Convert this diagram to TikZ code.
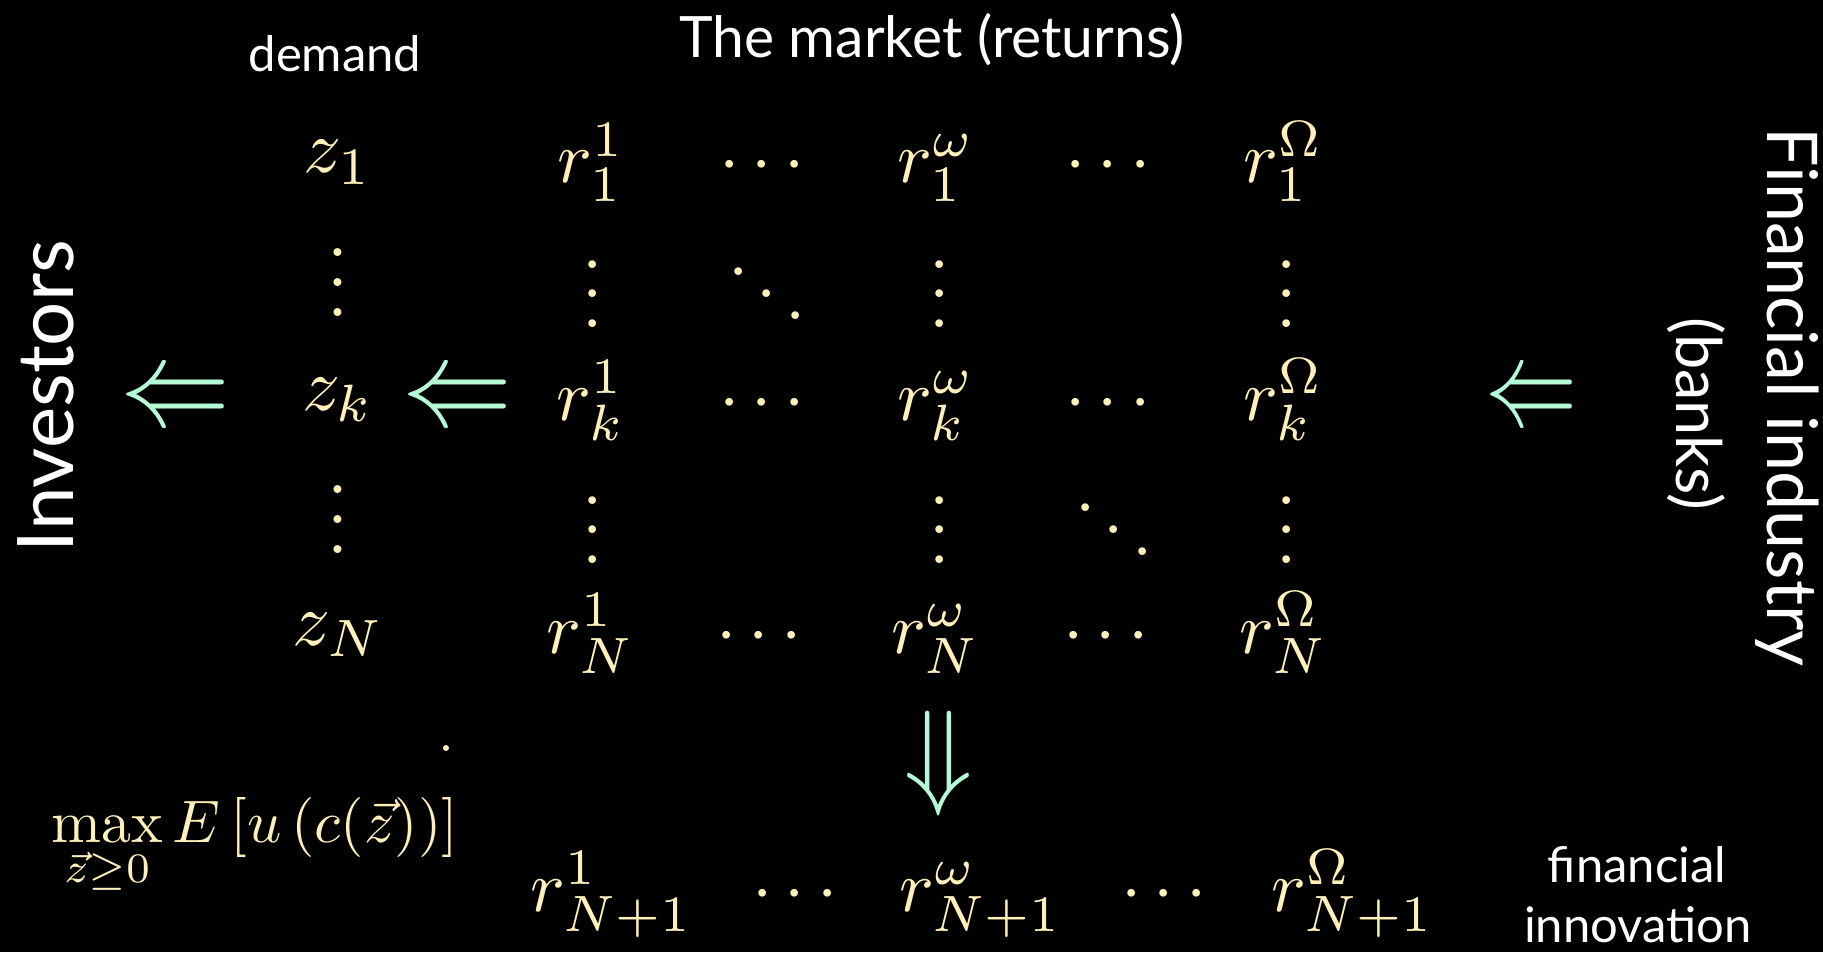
\documentclass[tikz,border=0pt]{standalone}
\usepackage{fontspec}
\newfontfamily\lato{Lato}
\definecolor{cream}{RGB}{255,240,185}
\definecolor{mint}{RGB}{180,250,215}
\tikzset{
  mth/.style={text=cream, inner sep=0pt, outer sep=0pt, scale=3.65, anchor=base},
  zmth/.style={text=cream, inner sep=0pt, outer sep=0pt, scale=3.75, anchor=base},
  lbl/.style={text=white, inner sep=0pt, outer sep=0pt, anchor=base},
  arr/.style={text=mint, inner sep=0pt, outer sep=0pt},
}
\begin{document}
\begin{tikzpicture}[x=0.5pt, y=-0.5pt]
\fill[black] (0,0) rectangle (1823,952);
\useasboundingbox (0,0) rectangle (1823,952);

% titles
\node[lbl, font=\lato\fontsize{24.5}{28}\selectfont] (demand) at (335,72) {demand};
\node[lbl, font=\lato\fontsize{28.5}{33}\selectfont] (market) at (932,58) {The market (returns)};
\node[lbl, font=\lato\fontsize{39}{46}\selectfont, rotate=90] (investors) at (73,396) {Investors};
\node[lbl, font=\lato\fontsize{35}{42}\selectfont, rotate=-90] (industry) at (1767,397) {Financial industry};
\node[lbl, font=\lato\fontsize{31.5}{38}\selectfont, rotate=-90] (banks) at (1676,414) {(banks)};
\node[lbl, font=\lato\fontsize{24.5}{28}\selectfont] (fin) at (1637,882) {financial};
\node[lbl, font=\lato\fontsize{24.5}{28}\selectfont] (innov) at (1638,942) {innovation};

% demand column
\node[zmth] (z1) at (338,173) {$z_1$};
\node[zmth] (zvd1) at (338,316) {$\vdots$};
\node[zmth] (zk) at (338,410) {$z_k$};
\node[zmth] (zvd2) at (338,553) {$\vdots$};
\node[zmth] (zN) at (338,645) {$z_N$};

% market matrix
\node[mth] (r11) at (591,183) {$r^1_1$};
\node[mth] (c11) at (762,183) {$\cdots$};
\node[mth] (rw1) at (936,183) {$r^\omega_1$};
\node[mth] (c12) at (1108,183) {$\cdots$};
\node[mth] (rO1) at (1284,183) {$r^\Omega_1$};

\node[mth] (v11) at (593,327) {$\vdots$};
\node[mth] (d1)  at (767,327) {$\ddots$};
\node[mth] (v12) at (940,327) {$\vdots$};
\node[mth] (v13) at (1287,327) {$\vdots$};

\node[mth] (r1k) at (591,420) {$r^1_k$};
\node[mth] (ck1) at (762,420) {$\cdots$};
\node[mth] (rwk) at (936,420) {$r^\omega_k$};
\node[mth] (ck2) at (1108,420) {$\cdots$};
\node[mth] (rOk) at (1284,420) {$r^\Omega_k$};

\node[mth] (v21) at (593,563) {$\vdots$};
\node[mth] (v22) at (940,563) {$\vdots$};
\node[mth] (d2)  at (1114,563) {$\ddots$};
\node[mth] (v23) at (1287,563) {$\vdots$};

\node[mth] (r1N) at (591,653) {$r^1_N$};
\node[mth] (cN1) at (759,653) {$\cdots$};
\node[mth] (rwN) at (936,653) {$r^\omega_N$};
\node[mth] (cN2) at (1106,653) {$\cdots$};
\node[mth] (rON) at (1284,653) {$r^\Omega_N$};

% new row
\node[mth] (r1n) at (612,911) {$r^1_{N+1}$};
\node[mth] (cn1) at (795,911) {$\cdots$};
\node[mth] (rwn) at (981,911) {$r^\omega_{N+1}$};
\node[mth] (cn2) at (1164,911) {$\cdots$};
\node[mth] (rOn) at (1353,911) {$r^\Omega_{N+1}$};

% investor problem
\node[text=cream, inner sep=0pt, scale=3.0, anchor=base west] (maxE) at (50,842)
  {$\displaystyle\max_{\vec{z}\geq 0} E\left[u\left(c(\vec{z})\right)\right]$};
\node[circle, fill=cream, inner sep=0pt, minimum size=3pt] (stray) at (446,748) {};

% arrows
\node[arr, xscale=5.5, yscale=6.2] (la1) at (175,403) {$\Leftarrow$};
\node[arr, xscale=5.5, yscale=6.2] (la2) at (457,403) {$\Leftarrow$};
\node[arr, xscale=4.6, yscale=6.2] (la3) at (1531,403) {$\Leftarrow$};
\node[arr, rotate=90, xscale=5.9, yscale=5.6] (da) at (946,763) {$\Leftarrow$};
\end{tikzpicture}
\end{document}
